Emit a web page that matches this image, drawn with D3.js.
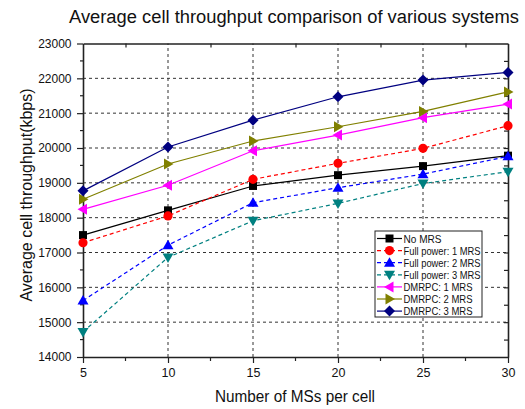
<!DOCTYPE html>
<html>
<head>
<meta charset="utf-8">
<script src="https://cdn.jsdelivr.net/npm/d3@7"></script>
<style>
  body { margin: 0; background: #fff; }
  svg { font-family: "Liberation Sans", Arial, sans-serif; }
</style>
</head>
<body>
<div id="chart"></div>
<script>
// values
const msPerCell = [5, 10, 15, 20, 25, 30];
const noMrs      = [17500, 18210, 18910, 19220, 19480, 19780];
const fullPower1 = [17280, 18050, 19100, 19560, 19990, 20640];
const fullPower2 = [15620, 17210, 18430, 18860, 19250, 19760];
const fullPower3 = [14720, 16860, 17910, 18410, 18980, 19320];
const dmrpc1     = [18240, 18930, 19920, 20370, 20870, 21260];
const dmrpc2     = [18530, 19540, 20200, 20610, 21050, 21610];
const dmrpc3     = [18770, 20030, 20800, 21470, 21950, 22170];
const seriesNames = ["No MRS", "Full power: 1 MRS", "Full power: 2 MRS", "Full power: 3 MRS",
                     "DMRPC: 1 MRS", "DMRPC: 2 MRS", "DMRPC: 3 MRS"];
const xTicks = [5, 10, 15, 20, 25, 30];
const yTicks = [14000, 15000, 16000, 17000, 18000, 19000, 20000, 21000, 22000, 23000];

const series = [
  {name: seriesNames[0], values: noMrs,      color: "#000000", dash: null,  shape: "square"},
  {name: seriesNames[1], values: fullPower1, color: "#ff0000", dash: "4,3", shape: "circle"},
  {name: seriesNames[2], values: fullPower2, color: "#0000ff", dash: "4,3", shape: "up"},
  {name: seriesNames[3], values: fullPower3, color: "#008080", dash: "4,3", shape: "down"},
  {name: seriesNames[4], values: dmrpc1,     color: "#ff00ff", dash: null,  shape: "left"},
  {name: seriesNames[5], values: dmrpc2,     color: "#808000", dash: null,  shape: "right"},
  {name: seriesNames[6], values: dmrpc3,     color: "#000080", dash: null,  shape: "diamond"}
];

const width = 525, height = 409;
const margin = {top: 43.5, right: 17, bottom: 52, left: 83};

const svg = d3.select("#chart").append("svg")
  .attr("width", width)
  .attr("height", height);

const x = d3.scaleLinear().domain([5, 30]).range([margin.left, width - margin.right]);
const y = d3.scaleLinear().domain([14000, 23000]).range([height - margin.bottom, margin.top]);

// dashed grid at major ticks
const grid = svg.append("g").attr("class", "grid");
grid.selectAll("line.gx")
  .data(xTicks.slice(1, -1))
  .enter().append("line")
  .attr("x1", d => x(d)).attr("x2", d => x(d))
  .attr("y1", y(14000)).attr("y2", y(23000))
  .attr("stroke", "#333").attr("stroke-dasharray", "3,3");
grid.selectAll("line.gy")
  .data(yTicks.slice(1, -1))
  .enter().append("line")
  .attr("x1", x(5)).attr("x2", x(30))
  .attr("y1", d => y(d)).attr("y2", d => y(d))
  .attr("stroke", "#333").attr("stroke-dasharray", "3,3");

// axes
const xMinor = d3.range(7.5, 30, 5);
const yMinor = d3.range(14500, 23000, 1000);

const axBottom = svg.append("g")
  .attr("transform", `translate(0,${y(14000)})`)
  .call(d3.axisBottom(x).tickValues(xTicks).tickSize(6).tickSizeOuter(0).tickPadding(5));
axBottom.append("g").selectAll("line").data(xMinor).enter().append("line")
  .attr("x1", d => x(d)).attr("x2", d => x(d)).attr("y1", 0).attr("y2", 4);

const axLeft = svg.append("g")
  .attr("transform", `translate(${x(5)},0)`)
  .call(d3.axisLeft(y).tickValues(yTicks).tickFormat(d3.format("d")).tickSize(6).tickSizeOuter(0).tickPadding(5.5));
axLeft.append("g").selectAll("line").data(yMinor).enter().append("line")
  .attr("y1", d => y(d)).attr("y2", d => y(d)).attr("x1", 0).attr("x2", -3);

const axTop = svg.append("g")
  .attr("transform", `translate(0,${y(23000)})`)
  .call(d3.axisBottom(x).tickValues(xMinor).tickSize(4).tickSizeOuter(0).tickFormat(""));

const axRight = svg.append("g")
  .attr("transform", `translate(${x(30)},0)`)
  .call(d3.axisLeft(y).tickValues(yMinor.concat(yTicks.slice(1, -1))).tickSize(4).tickSizeOuter(0).tickFormat(""));

[axBottom, axLeft, axTop, axRight].forEach(g => {
  g.select(".domain").attr("stroke", "#222").attr("stroke-width", 1.6);
  g.selectAll("line").attr("stroke", "#222").attr("stroke-width", 1.2);
  g.selectAll("text").attr("font-size", 12).attr("fill", "#111")
    .attr("font-family", "Liberation Sans, Arial, sans-serif");
});
axBottom.selectAll(".tick text").attr("font-size", 12.5);

// markers
function markerPath(shape) {
  switch (shape) {
    case "square": return "M-4,-4L4,-4L4,4L-4,4Z";
    case "circle": return d3.symbol(d3.symbolCircle, 66)();
    case "up": return "M0,-5.5L5.5,4L-5.5,4Z";
    case "down": return "M0,5.5L5.5,-4L-5.5,-4Z";
    case "left": return "M-5.5,0L4,-5.5L4,5.5Z";
    case "right": return "M5.5,0L-4,-5.5L-4,5.5Z";
    case "diamond": return "M0,-5.5L5.5,0L0,5.5L-5.5,0Z";
  }
}

const line = d3.line()
  .x((d, i) => x(msPerCell[i]))
  .y(d => y(d));

const plot = svg.append("g");
series.forEach(s => {
  plot.append("path")
    .datum(s.values)
    .attr("fill", "none")
    .attr("stroke", s.color)
    .attr("stroke-width", 1.2)
    .attr("stroke-dasharray", s.dash)
    .attr("d", line);
});
series.forEach(s => {
  plot.append("g").selectAll("path")
    .data(s.values)
    .enter().append("path")
    .attr("transform", (d, i) => `translate(${x(msPerCell[i])},${y(d)})`)
    .attr("d", markerPath(s.shape))
    .attr("fill", s.color);
});

// legend
const legend = svg.append("g").attr("transform", "translate(375,231)");
legend.append("rect")
  .attr("width", 107).attr("height", 86)
  .attr("fill", "#fff").attr("stroke", "#222").attr("stroke-width", 1);
series.forEach((s, i) => {
  const row = legend.append("g").attr("transform", `translate(0,${7.5 + i * 12.1})`);
  row.append("line")
    .attr("x1", 2).attr("x2", 27)
    .attr("stroke", s.color).attr("stroke-width", 1.2)
    .attr("stroke-dasharray", s.dash);
  row.append("path")
    .attr("transform", "translate(14.5,0)")
    .attr("d", markerPath(s.shape))
    .attr("fill", s.color);
  row.append("text")
    .attr("x", 28.5).attr("y", 4)
    .attr("font-size", 11)
    .attr("textLength", s.name.length > 12 ? 77 : (s.name === "No MRS" ? 38 : 69))
    .attr("lengthAdjust", "spacingAndGlyphs")
    .attr("fill", "#111")
    .text(s.name);
});

// titles
svg.append("text")
  .attr("x", 294).attr("y", 23)
  .attr("text-anchor", "middle")
  .attr("font-size", 18)
  .attr("textLength", 450)
  .attr("lengthAdjust", "spacingAndGlyphs")
  .attr("fill", "#111")
  .text("Average cell throughput comparison of various systems");

svg.append("text")
  .attr("x", 295).attr("y", 401.5)
  .attr("text-anchor", "middle")
  .attr("font-size", 16)
  .attr("textLength", 160)
  .attr("lengthAdjust", "spacingAndGlyphs")
  .attr("fill", "#111")
  .text("Number of MSs per cell");

svg.append("text")
  .attr("transform", "translate(32,195) rotate(-90)")
  .attr("text-anchor", "middle")
  .attr("font-size", 16)
  .attr("fill", "#111")
  .text("Average cell throughput(kbps)");
</script>
</body>
</html>
